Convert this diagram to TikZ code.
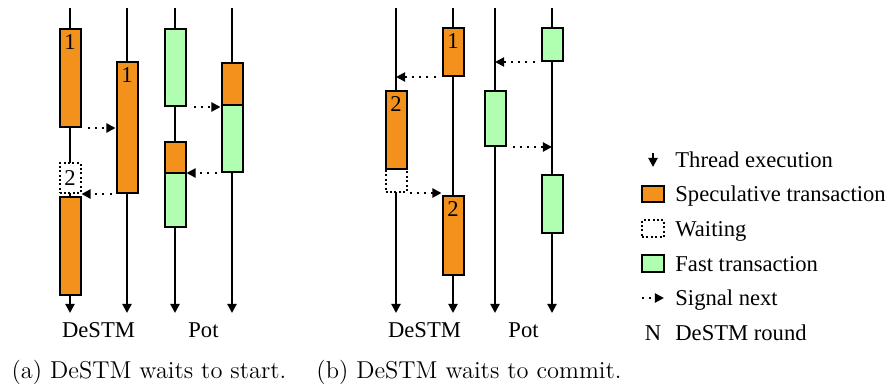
\documentclass[tikz,border=0pt]{standalone}
\usepackage{fontspec}
\newfontfamily\tms{Liberation Serif}
\usetikzlibrary{arrows.meta,calc}
\definecolor{specorange}{RGB}{242,146,29}
\definecolor{fastgreen}{RGB}{176,255,176}
\newcommand{\tmsfont}{\tms\fontsize{11.3}{13}\selectfont}
\newcommand{\capfont}{\fontsize{12.2}{14}\selectfont}
\begin{document}
\begin{tikzpicture}[x=0.5pt, y=-0.5pt,
    tip/.style={-{Triangle[width=4.6pt,length=4.6pt]}},
    thread/.style={tip, line width=1pt},
    txbox/.style={draw, line width=1pt, minimum width=10.5pt, inner sep=0pt, anchor=north},
    spec/.style={txbox, fill=specorange},
    fast/.style={txbox, fill=fastgreen},
    waitbox/.style={txbox, fill=white, dash pattern=on 1pt off 1.2pt, font=\tmsfont},
    numlbl/.style={anchor=north, inner sep=0pt, yshift=-3pt, font=\tmsfont},
    round/.style={label={[numlbl]north:#1}},
    signal/.style={tip, line width=1pt, dash pattern=on 1pt off 2.6pt},
    lbl/.style={font=\tmsfont, anchor=base, inner sep=0pt},
    legtext/.style={font=\tmsfont, anchor=base west, inner sep=0pt}]
  \useasboundingbox (0,0) rectangle (893,385);

  % Threads
  \foreach \n/\x in {a1/70, a2/127, a3/175, a4/232, b1/396, b2/453, b3/495, b4/552} {
    \coordinate (\n top) at (\x,8);
    \coordinate (\n bot) at (\x,313);
    \draw[thread] (\n top) -- (\n bot);
  }

  % (a) DeSTM waits to start
  \node[spec, round=1, minimum height=49pt] (a11) at (70,28) {};
  \node[waitbox, minimum height=15pt] (a12) at (70,162) {2};
  \node[spec, minimum height=49pt] (a13) at (70,196) {};
  \node[spec, round=1, minimum height=65.5pt] (a21) at (127,61) {};
  \node[fast, minimum height=38.5pt] (a31) at (175,28) {};
  \node[spec, minimum height=15.5pt] (a32) at (175,141) {};
  \node[fast, minimum height=27pt] (a33) at (175,172) {};
  \node[spec, minimum height=21pt] (a41) at (232,62) {};
  \node[fast, minimum height=33.5pt] (a42) at (232,104) {};

  \draw[signal, shorten <=3pt] (a11.south east) -- (a11.south east -| a21.west);
  \draw[signal, shorten <=2pt] (a21.south west) -- (a21.south west -| a12.east);
  \draw[signal, shorten <=3.5pt] (a31.south east) -- (a31.south east -| a42.west);
  \draw[signal, shorten <=2pt] (a42.south west) -- (a42.south west -| a33.east);

  % (b) DeSTM waits to commit
  \node[waitbox, minimum height=11.5pt] (b12) at (396,168) {};
  \node[spec, round=2, minimum height=39pt] (b11) at (396,90) {};
  \node[spec, round=1, minimum height=24pt] (b21) at (453,27) {};
  \node[spec, round=2, minimum height=39.5pt] (b22) at (453,195) {};
  \node[fast, minimum height=27.5pt] (b31) at (495,90) {};
  \node[fast, minimum height=16.5pt] (b41) at (552,27) {};
  \node[fast, minimum height=29pt] (b42) at (552,174) {};

  \draw[signal, shorten <=3pt] (b21.south west) -- (b21.south west -| b11.north);
  \draw[signal, shorten <=1pt] (b12.south east) -- (b12.south east -| b22.west);
  \draw[signal, shorten <=3pt] (b41.south west) -- (b41.south west -| b31.north);
  \draw[signal, shorten <=3pt] (b31.south east) -- (b31.south east -| b42.north);

  % Thread names and captions
  \node[lbl] (adestm) at ($(a1bot)!0.5!(a2bot)+(0,24.5)$) {DeSTM};
  \node[lbl] (apot) at ($(a3bot)!0.5!(a4bot)+(0,24.5)$) {Pot};
  \node[lbl] (bdestm) at ($(b1bot)!0.5!(b2bot)+(0,24.5)$) {DeSTM};
  \node[lbl] (bpot) at ($(b3bot)!0.5!(b4bot)+(0,24.5)$) {Pot};
  \node[anchor=base, inner sep=0pt, font=\capfont] (capa) at (149,378) {(a) DeSTM waits to start.};
  \node[anchor=base, inner sep=0pt, font=\capfont] (capb) at (469,378) {(b) DeSTM waits to commit.};

  % Legend
  \coordinate (legtop) at (653,153);
  \coordinate (legbot) at (653,167);
  \draw[thread] (legtop) -- (legbot);
  \node[spec, anchor=center, minimum width=11pt, minimum height=8pt] (legspec) at (653,194) {};
  \node[waitbox, anchor=center, minimum width=11pt, minimum height=8.5pt] (legwait) at (653,228.5) {};
  \node[fast, anchor=center, minimum width=11pt, minimum height=8.5pt] (legfast) at (653,263.5) {};
  \coordinate (legsigs) at (642,298);
  \coordinate (legsige) at (664,298);
  \draw[signal] (legsigs) -- (legsige);
  \node[lbl] (legn) at (653,340.5) {N};

  \node[legtext] (tthread) at (675,167) {Thread execution};
  \node[legtext] (tspec) at (675,201.7) {Speculative transaction};
  \node[legtext] (twait) at (675,236.4) {Waiting};
  \node[legtext] (tfast) at (675,271) {Fast transaction};
  \node[legtext] (tsig) at (675,305.7) {Signal next};
  \node[legtext] (tround) at (675,340.5) {DeSTM round};
\end{tikzpicture}
\end{document}
